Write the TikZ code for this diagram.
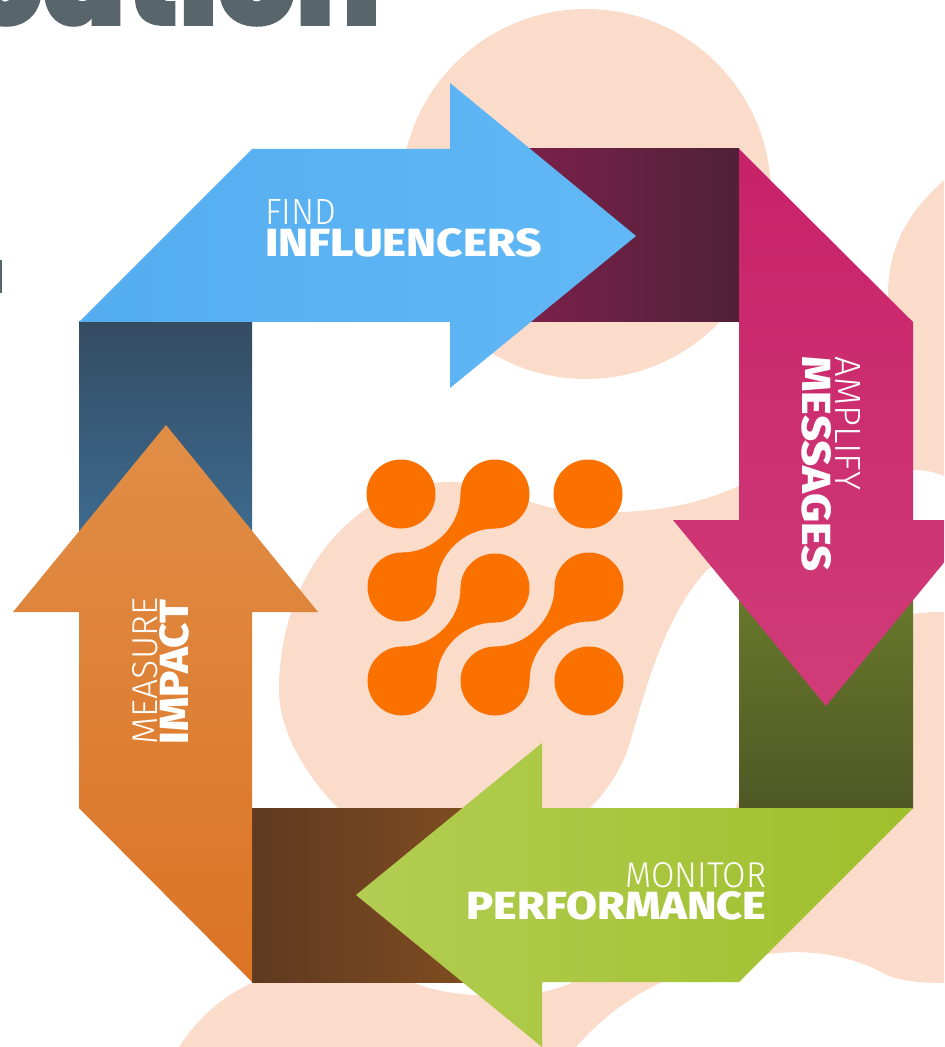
\documentclass[tikz,border=0pt]{standalone}
\usepackage{graphicx}
\usepackage{fontspec}
\newfontfamily\lightfont{Fira Sans Light}
\newfontfamily\heavyfont{Fira Sans ExtraBold}
\newfontfamily\titlefont[FakeBold=1.5]{Poppins Black}
\definecolor{peach}{HTML}{FBDCCB}
\definecolor{logoorange}{HTML}{FB7100}
\definecolor{titlegrey}{HTML}{58656B}
\tikzset{
  peachblob/.style={fill=peach},
  steplab/.style={text=white, inner sep=0pt, anchor=south west},
  logodot/.style={fill=logoorange},
  maroonband/.style={left color={rgb,255:red,138;green,32;blue,80}, right color={rgb,255:red,80;green,33;blue,56}},
  oliveband/.style={top color={rgb,255:red,112;green,132;blue,46}, bottom color={rgb,255:red,79;green,88;blue,37}},
  brownband/.style={left color={rgb,255:red,95;green,58;blue,32}, right color={rgb,255:red,138;green,82;blue,32}},
  navyband/.style={top color={rgb,255:red,52;green,76;blue,98}, bottom color={rgb,255:red,64;green,118;blue,160}},
  bluearrow/.style={left color={rgb,255:red,84;green,173;blue,240}, middle color={rgb,255:red,86;green,175;blue,241}, right color={rgb,255:red,98;green,184;blue,246}},
  pinkarrow/.style={top color={rgb,255:red,200;green,34;blue,104}, middle color={rgb,255:red,201;green,38;blue,104}, bottom color={rgb,255:red,208;green,60;blue,120}},
  greenarrow/.style={left color={rgb,255:red,178;green,205;blue,82}, middle color={rgb,255:red,166;green,196;blue,55}, right color={rgb,255:red,160;green,191;blue,44}},
  orangearrow/.style={top color={rgb,255:red,224;green,142;blue,71}, bottom color={rgb,255:red,220;green,115;blue,36}},
}
\begin{document}
\begin{tikzpicture}[x=0.5pt,y=-0.5pt]
\path[use as bounding box] (0,0) rectangle (944,1047);
\clip (0,0) rectangle (944,1047);
% background blobs
\fill[peachblob] (586,194) circle (185);
\fill[peachblob] (944,180) .. controls (905,215) and (888,250) .. (888,295) .. controls (888,380) and (880,470) .. (913,470) .. controls (925,470) and (935,472) .. (944,476) -- cycle;
\fill[peachblob] (279,690) .. controls (279,570) and (360,482) .. (450,482) .. controls (500,482) and (530,512) .. (590,512) .. controls (650,514) and (700,505) .. (745,483) -- (745,545) -- (707,570) .. controls (670,610) and (650,670) .. (630,743) .. controls (620,775) and (600,800) .. (582,815) -- (500,900) -- (400,880) -- (338,808) .. controls (305,775) and (279,730) .. (279,690) -- cycle;
\fill[peachblob] (800,640) -- (900,618) .. controls (915,612) and (930,612) .. (944,612) -- (944,983) .. controls (915,983) and (895,980) .. (883,973) .. controls (850,955) and (810,950) .. (779,953) .. controls (730,957) and (680,965) .. (660,983) .. controls (625,1000) and (600,1020) .. (576,1047) -- (179,1047) .. controls (200,1015) and (225,995) .. (252,983) -- (300,950) -- (700,900) -- cycle;
\fill[white] (415,983) .. controls (450,998) and (530,1002) .. (571,983) -- (571,960) -- (415,960) -- cycle;
% dark bands
\path[maroonband] (450,149) rectangle (739,322);
\path[oliveband] (739,520) rectangle (913,808);
\path[brownband] (252,808) rectangle (542,982);
\path[navyband] (79,322) rectangle (252,612);
% arrows
\path[bluearrow] (79,322) -- (252,149) -- (450,149) -- (450,83) -- (636,236) -- (450,388) -- (450,322) -- cycle;
\path[pinkarrow] (739,149) -- (913,322) -- (913,520) -- (979,520) -- (826,706) -- (673,520) -- (739,520) -- cycle;
\path[greenarrow] (913,808) -- (739,982) -- (542,982) -- (542,1047) -- (356,895) -- (542,743) -- (542,808) -- cycle;
\path[orangearrow] (252,982) -- (79,808) -- (79,612) -- (13,612) -- (166,425) -- (318,612) -- (252,612) -- cycle;
% logo
\foreach \cx/\cy in {401/494,495/494,588/494,402/587,495/588,589/587,402/681,495/681,589/681}
  \fill[logodot] (\cx,\cy) circle (34.5);
\foreach \ax/\ay/\bx/\by in {402/587/495/494,402/681/495/588,495/681/589/587}
  \fill[logodot] (\ax,\ay-34.5) .. controls (\ax+32,\ay-34.5) and (\bx-34.5,\by+32) .. (\bx-34.5,\by) -- (\bx,\by+34.5) .. controls (\bx-32,\by+34.5) and (\ax+34.5,\ay-32) .. (\ax+34.5,\ay) -- cycle;
% title and labels
\node[inner sep=0pt, anchor=base east, text=titlegrey, font=\titlefont\fontsize{61}{61}\selectfont] (title) at (381,25) {cation};
\fill[titlegrey] (0,260) rectangle (2,293);
\node[steplab] (find) at (265,225) {\resizebox{35.5pt}{12.5pt}{\lightfont FIND}};
\node[steplab] (influencers) at (265,258) {\resizebox{138pt}{14pt}{\heavyfont INFLUENCERS}};
\node[steplab, rotate=-90] (amplify) at (835,356) {\resizebox{67pt}{12.5pt}{\lightfont AMPLIFY}};
\node[steplab, rotate=-90] (messages) at (801,356) {\resizebox{107.5pt}{14.5pt}{\heavyfont MESSAGES}};
\node[steplab] (monitor) at (625,888) {\resizebox{70.5pt}{12.5pt}{\lightfont MONITOR}};
\node[steplab] (performance) at (466,921) {\resizebox{150pt}{14pt}{\heavyfont PERFORMANCE}};
\node[steplab, rotate=90] (measure) at (158,745) {\resizebox{73.5pt}{12.5pt}{\lightfont MEASURE}};
\node[steplab, rotate=90] (impact) at (190,745) {\resizebox{72.5pt}{14.5pt}{\heavyfont IMPACT}};
\end{tikzpicture}
\end{document}
